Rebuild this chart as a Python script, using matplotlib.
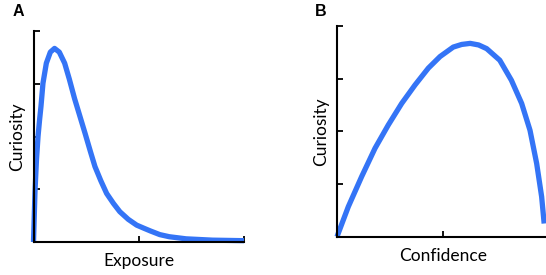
import matplotlib
matplotlib.use("Agg")
import matplotlib.pyplot as plt

# Panel A: Curiosity vs Exposure
exposure = [0, 0.014, 0.028, 0.043, 0.058, 0.071, 0.09, 0.122, 0.16, 0.2, 0.245, 0.296,
            0.34, 0.39, 0.44, 0.49, 0.54, 0.584, 0.64, 0.695, 0.76, 0.82, 0.9, 0.98,
            1.05, 1.11, 1.2, 1.29, 1.45, 1.7, 2.0]
curiosity_a = [0, 0.95, 1.55, 2.0, 2.32, 2.57, 3.01, 3.39, 3.6, 3.67, 3.6, 3.39,
               3.09, 2.72, 2.39, 2.06, 1.72, 1.43, 1.16, 0.92, 0.73, 0.575, 0.43, 0.32,
               0.26, 0.21, 0.14, 0.1, 0.06, 0.035, 0.025]

# Panel B: Curiosity vs Confidence
confidence = [0, 0.107, 0.233, 0.36, 0.485, 0.612, 0.738, 0.864, 0.975, 1.1, 1.18, 1.26,
              1.34, 1.416, 1.54, 1.65, 1.747, 1.826, 1.889, 1.936, 1.96]
curiosity_b = [0, 0.57, 1.14, 1.68, 2.12, 2.53, 2.88, 3.2, 3.42, 3.6, 3.65, 3.67,
               3.64, 3.57, 3.35, 2.97, 2.53, 2.02, 1.39, 0.76, 0.25]

x_ticks = [0, 1, 2]
y_ticks = [0, 1, 2, 3, 4]

W, H = 546, 275
fig = plt.figure(figsize=(W / 100, H / 100), dpi=100)

color = "#3474F6"
font = "Lato"

def style(ax):
    for s in ["top", "right"]:
        ax.spines[s].set_visible(False)
    for s in ["left", "bottom"]:
        ax.spines[s].set_linewidth(1.5)
        ax.spines[s].set_color("black")
    ax.set_xlim(0, 2)
    ax.set_ylim(0, 4)
    ax.set_xticks(x_ticks)
    ax.set_yticks(y_ticks)
    ax.tick_params(direction="in", length=4, width=1.3, labelbottom=False, labelleft=False)

axA = fig.add_axes([33.5 / W, (H - 242) / H, (244 - 33.5) / W, (242 - 31) / H])
axA.plot(exposure, curiosity_a, color=color, lw=3.8, solid_capstyle="butt",
         solid_joinstyle="round", clip_on=False)
style(axA)
axA.set_xlabel("Exposure", fontsize=12.5, family=font, labelpad=8)
axA.set_ylabel("Curiosity", fontsize=12.5, family=font, labelpad=6)

axB = fig.add_axes([337 / W, (H - 236.7) / H, (548.4 - 337) / W, (236.7 - 26) / H])
axB.plot(confidence, curiosity_b, color=color, lw=3.8, solid_capstyle="butt",
         solid_joinstyle="round", clip_on=False)
style(axB)
axB.set_xlabel("Confidence", fontsize=12.5, family=font, labelpad=8)
axB.set_ylabel("Curiosity", fontsize=12.5, family=font, labelpad=6)

fig.text(13 / W, 1 - 12 / H, "A", fontsize=11.5, fontweight="bold", family="Liberation Sans", va="center")
fig.text(315 / W, 1 - 12 / H, "B", fontsize=11.5, fontweight="bold", family="Liberation Sans", va="center")

fig.savefig("out.png", dpi=100)
